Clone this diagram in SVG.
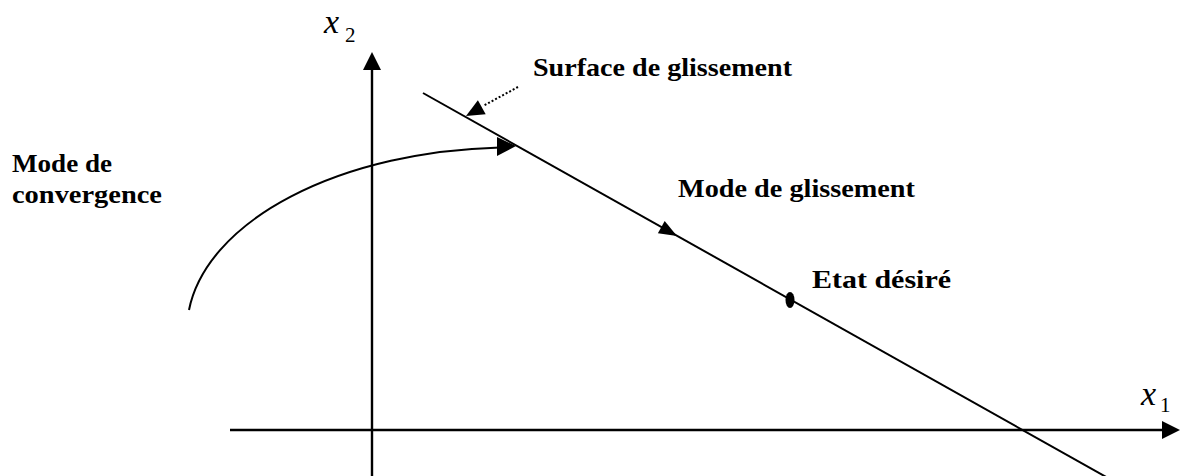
<svg xmlns="http://www.w3.org/2000/svg" width="1180" height="476" viewBox="0 0 1180 476">
<style>
.ln{stroke:#000;stroke-width:2;fill:none}
.ax{stroke:#000;stroke-width:2.4;fill:none}
.ah{fill:#000;stroke:none}
.lbl{font-family:"Liberation Serif","Times New Roman",serif;font-weight:bold;font-size:25px;fill:#000}
.math{font-family:"Liberation Serif","Times New Roman",serif;fill:#000}
</style>
<rect width="1180" height="476" fill="#fff"/>
<g id="axes">
  <line class="ax" x1="372" y1="476" x2="372" y2="68"/>
  <polygon class="ah" points="372,52 363,70 381,70"/>
  <line class="ax" x1="230" y1="430" x2="1164" y2="430"/>
  <polygon class="ah" points="1180,430 1162,421 1162,439"/>
  <text class="math" font-style="italic" font-size="34" x="324" y="33">x</text>
  <text class="math" font-size="21" x="345" y="42">2</text>
  <text class="math" font-style="italic" font-size="34" x="1141" y="405">x</text>
  <text class="math" font-size="21" x="1160" y="412">1</text>
</g>
<g id="surface">
  <line class="ln" x1="423" y1="93" x2="1108" y2="478"/>
  <polygon class="ah" points="677,236 657.9,233.3 664.7,221.1"/>
</g>
<g id="etat">
  <ellipse cx="790" cy="300" rx="4.5" ry="8" fill="#000"/>
  <text class="lbl" x="812" y="288" textLength="139" lengthAdjust="spacingAndGlyphs">Etat désiré</text>
</g>
<g id="labels">
  <text class="lbl" x="533" y="76" textLength="259" lengthAdjust="spacingAndGlyphs">Surface de glissement</text>
  <text class="lbl" x="678" y="197" textLength="237" lengthAdjust="spacingAndGlyphs">Mode de glissement</text>
  <text class="lbl" x="12" y="172" textLength="100" lengthAdjust="spacingAndGlyphs">Mode de</text>
  <text class="lbl" x="12" y="203" textLength="150" lengthAdjust="spacingAndGlyphs">convergence</text>
</g>
<g id="connectors">
  <path class="ln" d="M189,310 A328,183 0 0 1 500,147.4"/>
  <polygon class="ah" points="516,146 497,137 497,156"/>
  <line x1="518" y1="87" x2="483" y2="106" stroke="#000" stroke-width="2" stroke-dasharray="2,2"/>
  <polygon class="ah" points="466,116 485.7,114.3 477.9,100.3"/>
</g>
</svg>
